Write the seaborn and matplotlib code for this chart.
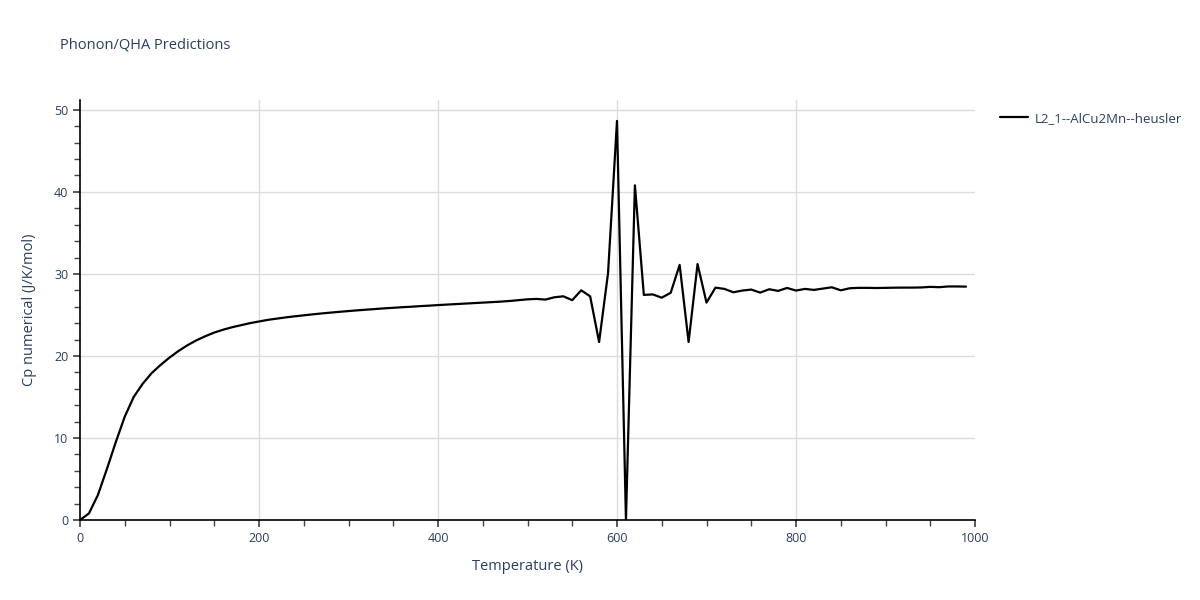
import matplotlib
matplotlib.use('Agg')
import matplotlib.pyplot as plt
from matplotlib.ticker import MultipleLocator
import seaborn as sns
import pandas as pd

temperature = list(range(0, 1000, 10))
cp = [0.0, 0.8, 3.05, 6.2, 9.5, 12.6, 15.0, 16.6, 17.9, 18.9,
      19.8, 20.6, 21.3, 21.9, 22.4, 22.85, 23.2, 23.5, 23.75, 24.0,
      24.2, 24.4, 24.55, 24.7, 24.83, 24.95, 25.07, 25.18, 25.28, 25.38,
      25.47, 25.56, 25.64, 25.72, 25.8, 25.87, 25.94, 26.0, 26.07, 26.13,
      26.2, 26.26, 26.32, 26.38, 26.44, 26.5, 26.56, 26.62, 26.7, 26.8,
      26.9, 26.95, 26.87, 27.15, 27.27, 26.8, 28.0, 27.27, 21.7, 30.1,
      48.65, 0.0, 40.8, 27.44, 27.5, 27.1, 27.7, 31.1, 21.7, 31.2,
      26.5, 28.33, 28.17, 27.76, 27.97, 28.09, 27.72, 28.13, 27.93, 28.29,
      27.97, 28.17, 28.05, 28.21, 28.37, 28.0, 28.25, 28.3, 28.3, 28.28,
      28.3, 28.32, 28.33, 28.33, 28.35, 28.42, 28.38, 28.47, 28.47, 28.45]
label = 'L2_1--AlCu2Mn--heusler'

df = pd.DataFrame({'Temperature': temperature, 'Cp': cp, 'name': label})

sns.set_theme(style='white')
plt.rcParams['font.family'] = ['Open Sans', 'DejaVu Sans']
text_col = '#2a3f5f'

fig = plt.figure(figsize=(12, 6), dpi=100)
ax = fig.add_axes([80 / 1200, 80 / 600, 895 / 1200, 420 / 600])

sns.lineplot(data=df, x='Temperature', y='Cp', hue='name', palette=['black'],
             linewidth=1.6, ax=ax, legend=True)

ax.set_xlim(0, 1000)
ax.set_ylim(0, 51.2)
ax.xaxis.set_major_locator(MultipleLocator(200))
ax.xaxis.set_minor_locator(MultipleLocator(50))
ax.yaxis.set_major_locator(MultipleLocator(10))
ax.yaxis.set_minor_locator(MultipleLocator(2))
# grid lines only inside the plot (none on the right edge)
for gx in [200, 400, 600, 800]:
    ax.axvline(gx, color='#dcdcdc', linewidth=1, zorder=0)
for gy in [10, 20, 30, 40, 50]:
    ax.axhline(gy, color='#dcdcdc', linewidth=1, zorder=0)
for s in ['top', 'right']:
    ax.spines[s].set_visible(False)
for s in ['left', 'bottom']:
    ax.spines[s].set_color('black')
    ax.spines[s].set_linewidth(1.2)
ax.tick_params(which='both', direction='out', color='#444444', labelcolor=text_col,
               labelsize=9, bottom=True, left=True)
ax.tick_params(which='major', length=5)
ax.tick_params(which='minor', length=4)

ax.set_xlabel('Temperature (K)', fontsize=10.5, color=text_col, labelpad=10)
ax.set_ylabel('Cp numerical (J/K/mol)', fontsize=10.5, color=text_col, labelpad=12)

fig.text(60 / 1200, 1 - 45 / 600, 'Phonon/QHA Predictions', fontsize=10.5,
         color=text_col, va='center', ha='left')

leg = ax.legend(loc='upper left', bbox_to_anchor=(1.015, 1.0), frameon=False,
                fontsize=9.5, handlelength=2.1, handletextpad=0.5, labelcolor=text_col)

fig.savefig('out.png', dpi=100)
